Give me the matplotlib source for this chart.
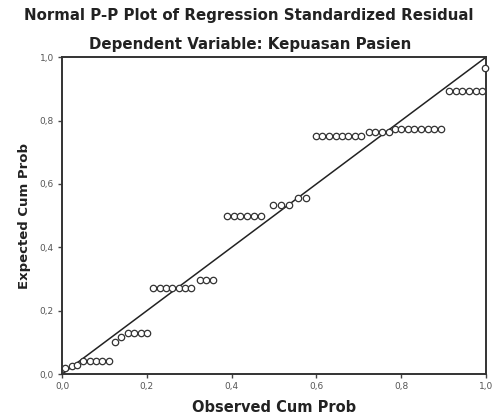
import matplotlib
matplotlib.use('Agg')
import matplotlib.pyplot as plt

# Observed vs expected cumulative probabilities
observed = [0.007, 0.023, 0.035,
            0.050, 0.065, 0.080, 0.095, 0.110,
            0.125, 0.140,
            0.155, 0.170, 0.185, 0.200,
            0.215, 0.230, 0.245, 0.260, 0.275, 0.290, 0.305,
            0.325, 0.340, 0.355,
            0.390, 0.405, 0.420, 0.436, 0.452, 0.468,
            0.498, 0.516, 0.534,
            0.556, 0.575,
            0.599, 0.614, 0.629, 0.645, 0.660, 0.675, 0.691, 0.706,
            0.723, 0.738, 0.754, 0.770,
            0.785, 0.800, 0.816, 0.831, 0.847, 0.862, 0.878, 0.893,
            0.912, 0.928, 0.944, 0.960, 0.976, 0.991,
            0.997]
expected = [0.020, 0.025, 0.030,
            0.040, 0.040, 0.040, 0.040, 0.040,
            0.100, 0.118,
            0.128, 0.128, 0.128, 0.128,
            0.272, 0.272, 0.272, 0.272, 0.272, 0.272, 0.272,
            0.297, 0.297, 0.297,
            0.500, 0.500, 0.500, 0.500, 0.500, 0.500,
            0.532, 0.532, 0.532,
            0.556, 0.556,
            0.750, 0.750, 0.750, 0.750, 0.750, 0.750, 0.750, 0.750,
            0.765, 0.765, 0.765, 0.765,
            0.772, 0.772, 0.772, 0.772, 0.772, 0.772, 0.772, 0.772,
            0.894, 0.894, 0.894, 0.894, 0.894, 0.894,
            0.965]

ticks = [0.0, 0.2, 0.4, 0.6, 0.8, 1.0]
tick_labels = ['0,0', '0,2', '0,4', '0,6', '0,8', '1,0']

plt.rcParams['font.family'] = ['DejaVu Sans']

fig = plt.figure(figsize=(4.97, 4.17), dpi=100)
ax = fig.add_axes([0.125, 0.103, 0.853, 0.760])

# reference diagonal
ax.plot([0, 1], [0, 1], color='#222222', linewidth=1.1, zorder=2)

# residual points
ax.plot(observed, expected, linestyle='none', marker='o', markersize=4.6,
        markerfacecolor='white', markeredgecolor='#333333',
        markeredgewidth=0.9, zorder=3, clip_on=False)

ax.set_xlim(0, 1)
ax.set_ylim(0, 1)
ax.set_xticks(ticks)
ax.set_yticks(ticks)
ax.set_xticklabels(tick_labels, fontsize=6.5)
ax.set_yticklabels(tick_labels, fontsize=6.5)
ax.tick_params(direction='out', length=3, width=1, colors='#444444',
               labelcolor='#555555', pad=3)

for side in ax.spines.values():
    side.set_linewidth(1.4)
    side.set_color('#333333')

ax.set_xlabel('Observed Cum Prob', fontsize=10.5, fontweight='bold',
              color='#222222', labelpad=6)
ax.set_ylabel('Expected Cum Prob', fontsize=9.5, fontweight='bold',
              color='#222222', labelpad=6)

fig.text(0.50, 0.962, 'Normal P-P Plot of Regression Standardized Residual',
         ha='center', va='center', fontsize=10.8, fontweight='bold',
         color='#222222')
fig.text(0.503, 0.893, 'Dependent Variable: Kepuasan Pasien',
         ha='center', va='center', fontsize=10.8, fontweight='bold',
         color='#222222')

fig.savefig('out.png', dpi=100)
